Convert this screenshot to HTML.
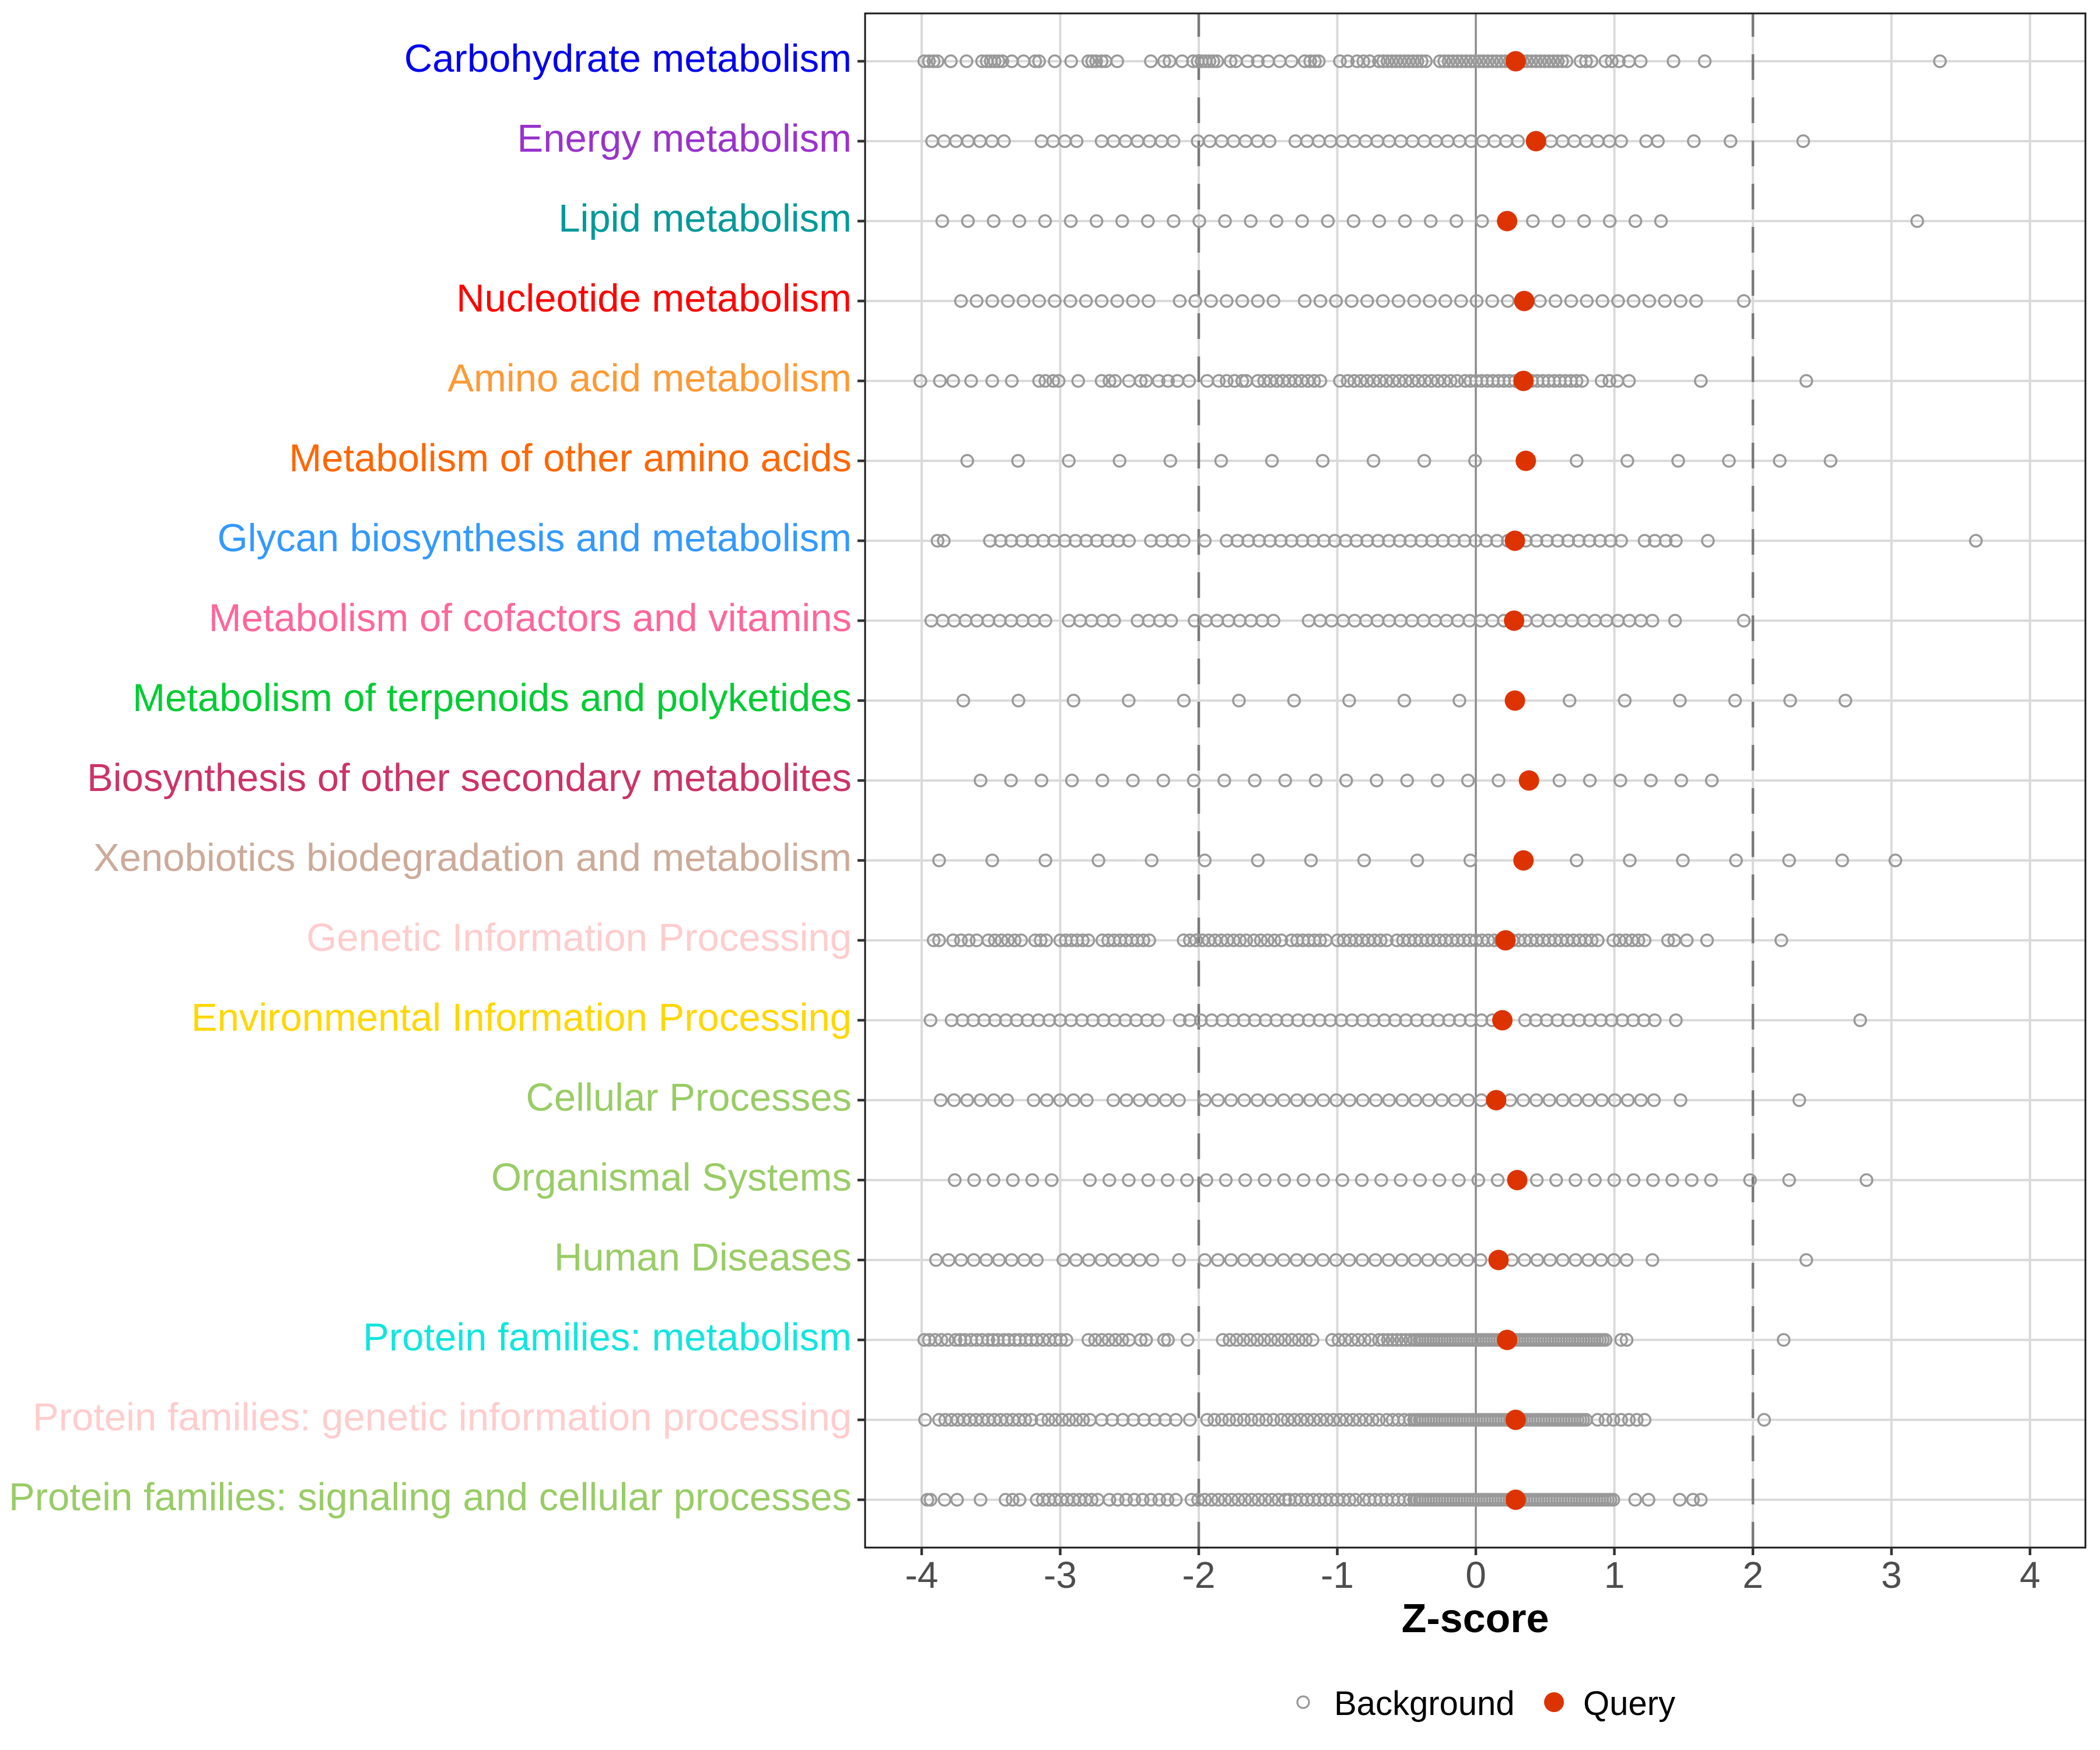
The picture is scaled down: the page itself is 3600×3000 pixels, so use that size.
<!DOCTYPE html>
<html>
<head>
<meta charset="utf-8">
<style>
html,body{margin:0;padding:0;background:#fff;}
svg{display:block;}
text{font-family:"Liberation Sans", Arial, sans-serif;}
</style>
</head>
<body>
<svg id="chart" xmlns="http://www.w3.org/2000/svg" width="3600" height="3000" viewBox="0 0 3600 3000">
<rect x="0" y="0" width="3600" height="3000" fill="#ffffff"/>
<rect x="1483" y="23" width="2092" height="2630" fill="#ffffff"/>
<g id="grid" stroke="#DADADA" stroke-width="4"></g>
<line x1="2530" y1="23" x2="2530" y2="2653" stroke="#858585" stroke-width="3"/>
<line x1="2055" y1="2653" x2="2055" y2="23" stroke="#7A7A7A" stroke-width="4.5" stroke-dasharray="44 30"/>
<line x1="3005" y1="2653" x2="3005" y2="23" stroke="#7A7A7A" stroke-width="4.5" stroke-dasharray="44 30"/>
<g id="pts" fill="none" stroke="#999999" stroke-width="3.5"></g>
<g id="qry" fill="#DD3300"></g>
<rect x="1483" y="23" width="2092" height="2630" fill="none" stroke="#1a1a1a" stroke-width="3"/>
<g id="ticks" stroke="#333333" stroke-width="4.5"></g>

<g font-size="67" text-anchor="end">
<text x="1460" y="123" fill="#0000EE">Carbohydrate metabolism</text>
<text x="1460" y="260" fill="#9933CC">Energy metabolism</text>
<text x="1460" y="397" fill="#009999">Lipid metabolism</text>
<text x="1460" y="534" fill="#FF0000">Nucleotide metabolism</text>
<text x="1460" y="671" fill="#FF9933">Amino acid metabolism</text>
<text x="1460" y="808" fill="#FF6600">Metabolism of other amino acids</text>
<text x="1460" y="945" fill="#3399FF">Glycan biosynthesis and metabolism</text>
<text x="1460" y="1082" fill="#FF6699">Metabolism of cofactors and vitamins</text>
<text x="1460" y="1219" fill="#00CC33">Metabolism of terpenoids and polyketides</text>
<text x="1460" y="1356" fill="#CC3366">Biosynthesis of other secondary metabolites</text>
<text x="1460" y="1493" fill="#CCAA99">Xenobiotics biodegradation and metabolism</text>
<text x="1460" y="1630" fill="#FFCCCC">Genetic Information Processing</text>
<text x="1460" y="1767" fill="#FFD700">Environmental Information Processing</text>
<text x="1460" y="1904" fill="#99CC66">Cellular Processes</text>
<text x="1460" y="2041" fill="#99CC66">Organismal Systems</text>
<text x="1460" y="2178" fill="#99CC66">Human Diseases</text>
<text x="1460" y="2315" fill="#11E5DD">Protein families: metabolism</text>
<text x="1460" y="2452" fill="#FFCCCC">Protein families: genetic information processing</text>
<text x="1460" y="2589" fill="#99CC66">Protein families: signaling and cellular processes</text>
</g>

<g font-size="64" text-anchor="middle" fill="#4D4D4D">
<text x="1580" y="2722">-4</text>
<text x="1817.5" y="2722">-3</text>
<text x="2055" y="2722">-2</text>
<text x="2292.5" y="2722">-1</text>
<text x="2530" y="2722">0</text>
<text x="2767.5" y="2722">1</text>
<text x="3005" y="2722">2</text>
<text x="3242.5" y="2722">3</text>
<text x="3480" y="2722">4</text>
</g>

<text x="2529" y="2798" font-size="70" font-weight="bold" text-anchor="middle" fill="#000">Z-score</text>

<circle cx="2234" cy="2918" r="10" fill="none" stroke="#999999" stroke-width="3.2"/>
<text x="2287" y="2940" font-size="58" fill="#000">Background</text>
<circle cx="2664" cy="2918" r="17" fill="#DD3300"/>
<text x="2714" y="2940" font-size="58" fill="#000">Query</text>
</svg>
<script>
(function(){
var NS="http://www.w3.org/2000/svg";
function R(a,b,n){var o=[];if(n===1){return [a];}for(var i=0;i<n;i++){o.push(a+(b-a)*i/(n-1));}return o;}
function px(p){return 1480+p*1.3393;}
function rowY(i){return 105+137*i;}
var grid=document.getElementById('grid');
var ticks=document.getElementById('ticks');
var pts=document.getElementById('pts');
var qry=document.getElementById('qry');
function line(g,x1,y1,x2,y2){var l=document.createElementNS(NS,'line');l.setAttribute('x1',x1);l.setAttribute('y1',y1);l.setAttribute('x2',x2);l.setAttribute('y2',y2);g.appendChild(l);}
for(var z=-4;z<=4;z++){var x=2530+237.5*z;line(grid,x,23,x,2653);line(ticks,x,2653,x,2666);}
for(var i=0;i<19;i++){var y=rowY(i);line(grid,1483,y,3575,y);line(ticks,1470,y,1483,y);}
var rows=[
 {p:[78,84,90,95,112,132,152,158,163,168,173,178,190,205,220,225,245,266,288,293,298,305,310,325,368,385,392,408,422,428,433,438,443,448,453,470,477,492,505,518,533,548,565,572,578,583,610,620,632,640,648].concat(R(660,720,12),R(738,900,30),[918,925,932,950,958,967,980,995,1037,1077,1378]),q:835},
 {p:[].concat(R(88,180,7),R(228,273,4),R(305,397,7),R(428,520,7),R(553,838,20),R(880,970,7),[1002,1017,1063,1110,1203]),q:861},
 {p:[].concat(R(101,792,22),R(857,1021,6),[1349]),q:824},
 {p:[].concat(R(125,365,13),R(405,525,7),R(565,825,14),R(866,1066,11),[1127]),q:846},
 {p:[73,98,115,138,165,190,225,233,243,250,275,305,315,322,340,355,362,378,390,402,417,440,455,465,475,485,490].concat(R(505,585,11),[610],R(620,760,18),R(770,920,22),[945,955,965,980,1072,1207]),q:845},
 {p:[].concat(R(133,783,11),R(913,1238,6)),q:848},
 {p:[95,103].concat(R(162,340,14),R(368,410,4),[437],R(465,825,27),R(848,970,10),[1000,1013,1027,1040,1081,1424]),q:834},
 {p:[].concat(R(87,233,11),R(263,321,5),R(351,394,4),R(424,525,8),R(570,820,18),R(848,1010,12),[1039,1127]),q:833},
 {p:[].concat(R(128,763,10),R(904,1257,6)),q:834},
 {p:[].concat(R(150,813,18),R(891,1086,6)),q:852},
 {p:[].concat(R(97,777,11),R(913,1321,7)),q:845},
 {p:[90,97].concat(R(115,145,4),R(160,202,6),R(220,234,3),R(252,288,6),R(306,366,9),R(410,490,11),R(500,535,5),R(548,592,7),R(607,670,9),R(683,940,34),R(960,1000,6),[1030,1038,1054,1080,1175]),q:822},
 {p:[86].concat(R(113,377,20),[405,418],R(432,805,28),R(847,1013,13),[1040,1276]),q:818},
 {p:[].concat(R(99,184,6),R(218,286,5),R(320,404,6),R(437,791,22),R(828,1012,12),[1046,1198]),q:810},
 {p:[].concat(R(117,241,6),R(290,812,22),R(862,1085,10),[1135,1185,1284]),q:837},
 {p:[].concat(R(93,222,9),R(256,370,8),[404],R(437,790,22),R(830,977,10),[1010,1207]),q:813},
 {p:[78,84,92,100,108,118,124,130,138,145,152,160,166,172,180,186,194,200,208,215,222,230,238,246,253,260].concat(R(288,340,7),[355,362,385,390,415],R(460,575,14),R(600,650,7),R(660,700,8),R(705,950,70),[970,977,1178]),q:824},
 {p:[79].concat(R(97,215,16),R(228,290,8),R(305,400,8),[418],R(440,525,10),R(535,660,16),R(670,700,5),R(705,925,62),R(940,1000,7),[1153]),q:835},
 {p:[82,86,104,120,150].concat(R(182,200,3),R(222,300,11),R(315,400,9),R(420,540,15),R(545,630,12),R(640,700,9),R(705,960,72),[988,1005,1045,1062,1072]),q:835}
];
for(var r=0;r<rows.length;r++){
 var y=rowY(r);
 var p=rows[r].p;
 for(var k=0;k<p.length;k++){
  var c=document.createElementNS(NS,'circle');
  c.setAttribute('cx',px(p[k]).toFixed(1));c.setAttribute('cy',y);c.setAttribute('r','10');
  pts.appendChild(c);
 }
 var q=document.createElementNS(NS,'circle');
 q.setAttribute('cx',px(rows[r].q).toFixed(1));q.setAttribute('cy',y);q.setAttribute('r','17.5');
 qry.appendChild(q);
}
})();
</script>
</body>
</html>
